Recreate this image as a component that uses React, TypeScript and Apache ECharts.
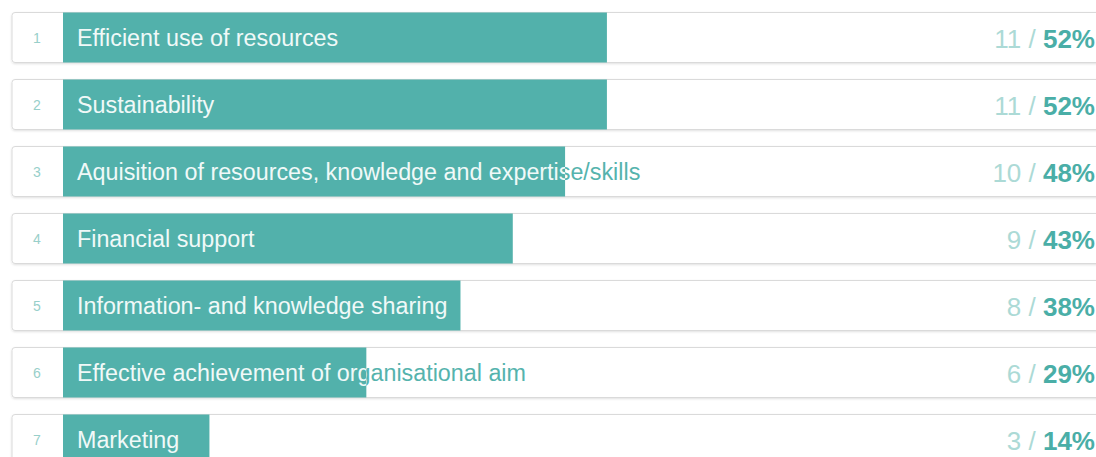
import React, { useEffect, useRef } from "react";
import * as echarts from "echarts";

const categories = [
  "Efficient use of resources",
  "Sustainability",
  "Aquisition of resources, knowledge and expertise/skills",
  "Financial support",
  "Information- and knowledge sharing",
  "Effective achievement of organisational aim",
  "Marketing",
];
const ranks = [1, 2, 3, 4, 5, 6, 7];
const counts = [11, 11, 10, 9, 8, 6, 3];
const percents = [52, 52, 48, 43, 38, 29, 14];

const BAR = "#52b1ab";
const TEAL_TEXT = "#55b3ad";
const LABEL_WHITE = "#f0f9f8";
const FONT = "'Liberation Sans', Arial, Helvetica, sans-serif";

export default function App() {
  const ref = useRef<HTMLDivElement>(null);
  useEffect(() => {
    if (!ref.current) return;
    const chart = echarts.init(ref.current, null, { renderer: "svg" });
    const option: any = {
      animation: false,
      grid: { left: 63, top: 4, width: 1046, height: 469 },
      xAxis: { type: "value", min: 0, max: 100, show: false },
      yAxis: { type: "category", data: categories, inverse: true, show: false },
      series: [
        {
          type: "custom",
          data: percents.map((p, i) => [p, i]),
          encode: { x: 0, y: 1 },
          clip: false,
          renderItem: (params: any, api: any) => {
            const i = params.dataIndex;
            const p0 = api.coord([0, i]);
            const p1 = api.coord([api.value(0), i]);
            const band = api.size([0, 1])[1];
            const h = band - 17;
            const top = p0[1] - h / 2;
            const textX = p0[0] + 14;
            const labelStyle = {
              text: categories[i],
              fontSize: 23.3,
              fontFamily: FONT,
              align: "left",
              verticalAlign: "middle",
            };
            return {
              type: "group",
              children: [
                {
                  type: "rect",
                  shape: { x: p0[0] - 51, y: top, width: 1200, height: h, r: 3 },
                  style: {
                    fill: "#ffffff",
                    stroke: "#dadada",
                    lineWidth: 1,
                    shadowBlur: 2,
                    shadowOffsetY: 1,
                    shadowColor: "rgba(0,0,0,0.12)",
                  },
                },
                {
                  type: "rect",
                  shape: { x: p0[0], y: top, width: p1[0] - p0[0], height: h },
                  style: { fill: BAR },
                },
                {
                  type: "text",
                  x: p0[0] - 26,
                  y: p0[1],
                  style: {
                    text: String(ranks[i]),
                    fontSize: 14,
                    fontFamily: FONT,
                    fill: "#98cfca",
                    align: "center",
                    verticalAlign: "middle",
                  },
                },
                {
                  type: "text",
                  x: textX,
                  y: p0[1],
                  style: { ...labelStyle, fill: TEAL_TEXT },
                },
                {
                  type: "text",
                  x: textX,
                  y: p0[1],
                  style: { ...labelStyle, fill: LABEL_WHITE },
                  clipPath: {
                    type: "rect",
                    shape: { x: -14, y: -h / 2, width: p1[0] - p0[0], height: h },
                  },
                },
                {
                  type: "text",
                  x: 1095,
                  y: p0[1] + 1,
                  style: {
                    text: "{c|" + counts[i] + " / }{p|" + percents[i] + "%}",
                    align: "right",
                    verticalAlign: "middle",
                    rich: {
                      c: { fontSize: 26, fontFamily: FONT, fill: "#acdad6", color: "#acdad6" },
                      p: {
                        fontSize: 26,
                        fontFamily: FONT,
                        fontWeight: "bold",
                        fill: "#4aaea7",
                        color: "#4aaea7",
                      },
                    },
                  },
                },
              ],
            };
          },
        },
      ],
    };
    chart.setOption(option);
    return () => chart.dispose();
  }, []);
  return (
    <div
      style={{
        position: "absolute",
        left: 0,
        top: 0,
        width: 1096,
        height: 457,
        overflow: "hidden",
      }}
    >
      <div ref={ref} style={{ width: 1130, height: 480 }} />
    </div>
  );
}
